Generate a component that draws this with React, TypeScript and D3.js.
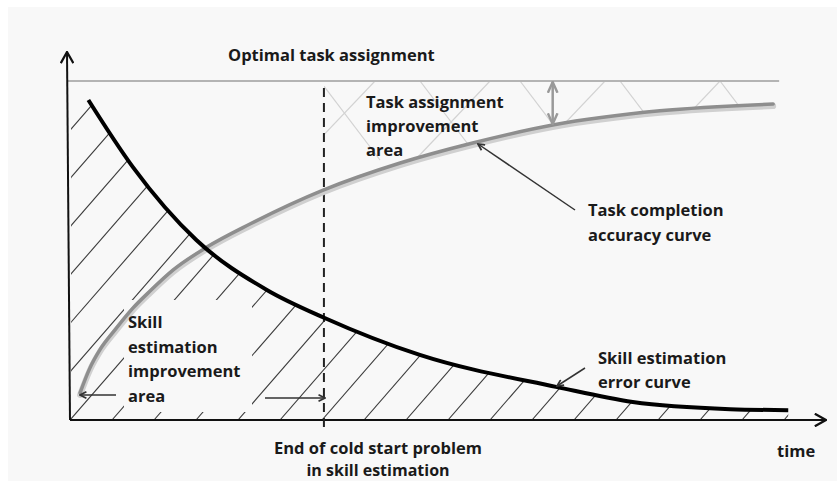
import React from "react";
import * as d3 from "d3";

// time on x (0..10), normalised level on y (1 = optimal task assignment)
const errorCurve: [number, number][] = [
  [0.23, 0.944], [0.82, 0.746], [1.66, 0.531], [2.6, 0.383], [3.36, 0.301],
  [4.62, 0.192], [6.44, 0.097], [7.44, 0.053], [8.73, 0.032], [9.5, 0.029],
];
const accuracyCurve: [number, number][] = [
  [0.12, 0.08], [0.25, 0.153], [0.38, 0.206], [0.58, 0.265], [0.82, 0.33],
  [1.05, 0.381], [1.35, 0.442], [1.8, 0.51], [2.37, 0.578], [3.34, 0.678],
  [4.36, 0.758], [5.32, 0.817], [6.38, 0.87], [7.8, 0.912], [9.3, 0.932],
];
const optimalLevel = 1;
const coldStartEnd = 3.35;

const W = 837;
const H = 481;

export default function App() {
  const x = d3.scaleLinear().domain([0, 10]).range([71, 826]);
  const y = d3.scaleLinear().domain([0, 1]).range([420, 81]);

  const line = d3.line<[number, number]>()
    .x(d => x(d[0]))
    .y(d => y(d[1]))
    .curve(d3.curveMonotoneX);

  const errorPath = line(errorCurve) || "";
  const accPath = line(accuracyCurve) || "";

  // region under the error curve (skill estimation improvement area)
  const lastErr = errorCurve[errorCurve.length - 1];
  const underErr =
    `M${x(0)},${y(errorCurve[0][1])}L` + errorPath.slice(1) +
    `L${x(lastErr[0])},${y(0)}L${x(0)},${y(0)}Z`;

  // region between accuracy curve and optimal line
  const lastAcc = accuracyCurve[accuracyCurve.length - 1];
  const aboveAcc =
    accPath + `L${x(lastAcc[0])},${y(optimalLevel)}L${x(0)},${y(optimalLevel)}Z`;

  const slope = 1.15;
  const hatch = d3.range(-350, 830, 42).map(c => ({
    x1: c, y1: 420, x2: c + 400 / slope, y2: 20,
  }));
  const crossA = d3.range(220, 900, 100).map(c => ({ x1: c, y1: 81, x2: c + 60, y2: 160 }));
  const crossB = d3.range(300, 900, 115).map(c => ({ x1: c, y1: 160, x2: c + 75, y2: 81 }));

  const font = "'Open Sans', 'DejaVu Sans', sans-serif";
  const tx = { fontFamily: font, fontWeight: 700, fontSize: 16.5, fill: "#1a1a1a" } as const;
  const bg = "#f8f8f8";
  const xc = x(coldStartEnd);

  return (
    <svg width={W} height={H} style={{ position: "absolute", left: 0, top: 0 }}>
      <defs>
        <clipPath id="under-err"><path d={underErr} /></clipPath>
        <clipPath id="above-acc"><path d={aboveAcc} /></clipPath>
        <clipPath id="right-of-cold">
          <rect x={xc} y={0} width={W} height={H} />
        </clipPath>
        <marker id="ah" viewBox="0 0 10 10" refX="9" refY="5" markerWidth="8" markerHeight="8" orient="auto-start-reverse" markerUnits="userSpaceOnUse">
          <path d="M1,1 L9,5 L1,9" fill="none" stroke="#333" strokeWidth="2.2" />
        </marker>
        <marker id="ahg" viewBox="0 0 10 10" refX="9" refY="5" markerWidth="12" markerHeight="12" orient="auto-start-reverse" markerUnits="userSpaceOnUse">
          <path d="M0,1 L9,5 L0,9" fill="none" stroke="#999" strokeWidth="2" />
        </marker>
        <marker id="axh" viewBox="0 0 10 10" refX="9" refY="5" markerWidth="14" markerHeight="14" orient="auto" markerUnits="userSpaceOnUse">
          <path d="M1,0.5 L9,5 L1,9.5" fill="none" stroke="#111" strokeWidth="1.6" />
        </marker>
      </defs>

      <rect x={0} y={0} width={W} height={H} fill="#fff" />
      <rect x={8} y={7} width={W - 8} height={H - 7} fill={bg} />

      {/* hatching of the skill estimation improvement area */}
      <g clipPath="url(#under-err)">
        {hatch.map((d, i) => (
          <line key={i} {...d} stroke="#3a3a3a" strokeWidth={1.1} />
        ))}
      </g>
      <rect x={124} y={300} width={128} height={112} fill={bg} />

      {/* light cross hatching of the task assignment improvement area */}
      <g clipPath="url(#right-of-cold)">
        <g clipPath="url(#above-acc)">
          {crossA.concat(crossB).map((d, i) => (
            <line key={i} {...d} stroke="#d2d2d2" strokeWidth={1.2} />
          ))}
        </g>
      </g>

      {/* optimal level */}
      <line x1={68} x2={x(9.3) + 6} y1={y(optimalLevel)} y2={y(optimalLevel)} stroke="#b4b4b4" strokeWidth={2} />

      {/* axes */}
      <line x1={70} y1={y(0)} x2={67} y2={52} stroke="#111" strokeWidth={2} markerEnd="url(#axh)" />
      <line x1={70} y1={y(0)} x2={x(10)} y2={y(0)} stroke="#111" strokeWidth={2} markerEnd="url(#axh)" />

      {/* cold start boundary */}
      <line x1={xc} x2={xc} y1={88} y2={428} stroke="#222" strokeWidth={2} strokeDasharray="9,6" />

      {/* accuracy curve with soft shadow */}
      <path d={accPath} fill="none" stroke="#d0d0d0" strokeWidth={6} transform="translate(0,2)" strokeLinecap="round" />
      <path d={accPath} fill="none" stroke="#8e8e8e" strokeWidth={3.5} strokeLinecap="round" />

      {/* error curve */}
      <path d={errorPath} fill="none" stroke="#000" strokeWidth={4} />

      {/* gap arrow */}
      <line x1={x(6.38)} x2={x(6.38)} y1={y(optimalLevel) + 1} y2={y(0.87) - 1} stroke="#999" strokeWidth={2.5} markerStart="url(#ahg)" markerEnd="url(#ahg)" />

      {/* annotation arrows */}
      <line x1={575} y1={210} x2={478} y2={144} stroke="#333" strokeWidth={1.5} markerEnd="url(#ah)" />
      <line x1={585} y1={368} x2={557} y2={386} stroke="#333" strokeWidth={1.5} markerEnd="url(#ah)" />
      <line x1={116} y1={395} x2={80} y2={395} stroke="#333" strokeWidth={1.5} markerEnd="url(#ah)" />
      <line x1={265} y1={398} x2={xc + 1} y2={398} stroke="#333" strokeWidth={1.5} markerEnd="url(#ah)" />

      {/* labels */}
      <text {...tx} x={228} y={61}>Optimal task assignment</text>
      <text {...tx}>
        <tspan x={366} y={108}>Task assignment</tspan>
        <tspan x={366} y={132}>improvement</tspan>
        <tspan x={366} y={156}>area</tspan>
      </text>
      <text {...tx}>
        <tspan x={588} y={216}>Task completion</tspan>
        <tspan x={588} y={241}>accuracy curve</tspan>
      </text>
      <text {...tx}>
        <tspan x={128} y={328}>Skill</tspan>
        <tspan x={128} y={353}>estimation</tspan>
        <tspan x={128} y={377}>improvement</tspan>
        <tspan x={128} y={402}>area</tspan>
      </text>
      <text {...tx}>
        <tspan x={598} y={364}>Skill estimation</tspan>
        <tspan x={598} y={388}>error curve</tspan>
      </text>
      <text {...tx} textAnchor="middle" x={378} y={454}>End of cold start problem</text>
      <text {...tx} textAnchor="middle" x={378} y={476} fontSize={16}>in skill estimation</text>
      <text {...tx} x={777} y={457}>time</text>
    </svg>
  );
}
